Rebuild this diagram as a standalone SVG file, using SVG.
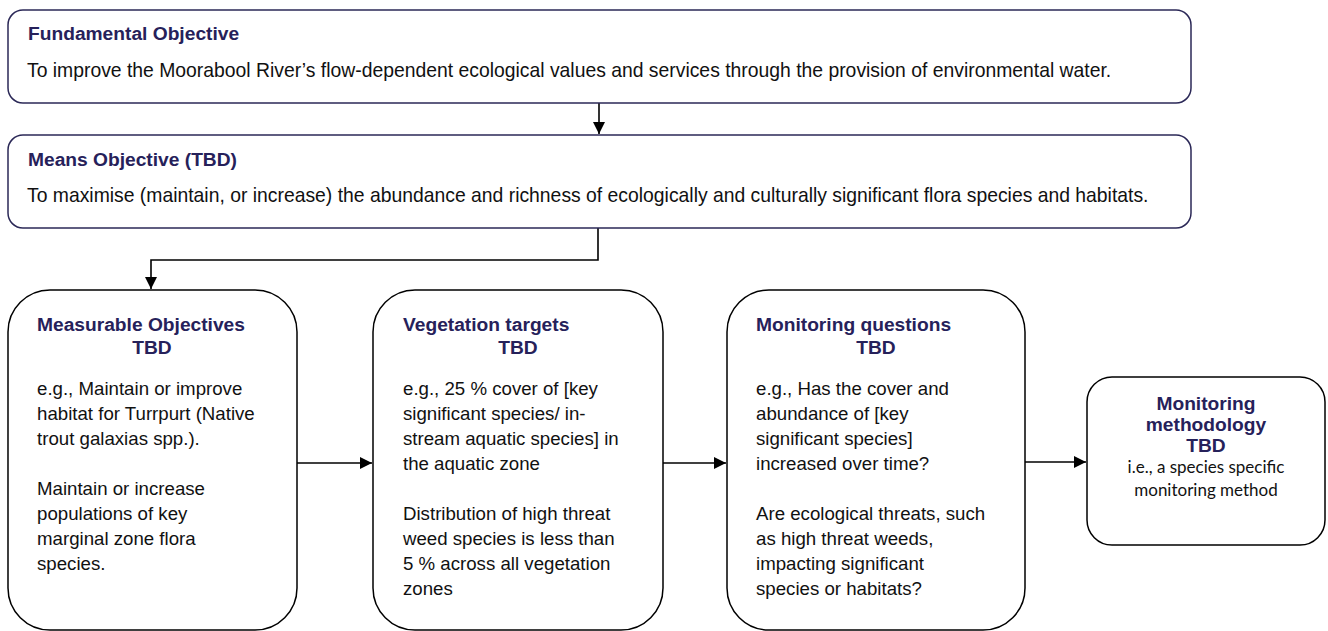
<svg xmlns="http://www.w3.org/2000/svg" width="1328" height="631" viewBox="0 0 1328 631">
<defs>
<style>
.top{fill:#fff;stroke:#2b2857;stroke-width:1.5}
.box{fill:#fff;stroke:#000;stroke-width:1.5}
.h{font-family:"Liberation Sans",Arial,sans-serif;font-weight:bold;font-size:19.2px;fill:#26215a}
.t{font-family:"Liberation Sans",Arial,sans-serif;font-size:18.67px;fill:#111}
.tt{font-family:"Liberation Sans",Arial,sans-serif;font-size:19.35px;fill:#111}
.c{font-family:Lato,"Liberation Sans",sans-serif;font-size:17px;fill:#111}
.con{fill:none;stroke:#000;stroke-width:1.6}
</style>
<marker id="arr" viewBox="0 0 12 12" refX="12" refY="6" markerWidth="12" markerHeight="12" markerUnits="userSpaceOnUse" orient="auto">
<path d="M0,0 L12,6 L0,12 Z" fill="#000"/>
</marker>
</defs>
<g id="connectors">
<path class="con" d="M599,103 V134" marker-end="url(#arr)"/>
<path class="con" d="M598,228 V260 H151 V289" marker-end="url(#arr)"/>
<path class="con" d="M297,463 H372" marker-end="url(#arr)"/>
<path class="con" d="M663,463 H726" marker-end="url(#arr)"/>
<path class="con" d="M1025,462 H1086" marker-end="url(#arr)"/>
</g>
<g id="fundamental">
<rect class="top" x="8" y="10" width="1183" height="93" rx="15"/>
<text class="h" x="28" y="40">Fundamental Objective</text>
<text class="tt" x="27" y="77">To improve the Moorabool River’s flow-dependent ecological values and services through the provision of environmental water.</text>
</g>
<g id="means">
<rect class="top" x="8" y="135" width="1183" height="93" rx="15"/>
<text class="h" x="28" y="166">Means Objective (TBD)</text>
<text class="tt" x="27" y="202">To maximise (maintain, or increase) the abundance and richness of ecologically and culturally significant flora species and habitats.</text>
</g>
<g id="measurable">
<rect class="box" x="8" y="290" width="289" height="340" rx="42"/>
<text class="h" x="37" y="331">Measurable Objectives</text>
<text class="h" x="152" y="354" text-anchor="middle">TBD</text>
<text class="t" x="37" y="395">e.g., Maintain or improve</text>
<text class="t" x="37" y="420">habitat for Turrpurt (Native</text>
<text class="t" x="37" y="445">trout galaxias spp.).</text>
<text class="t" x="37" y="495">Maintain or increase</text>
<text class="t" x="37" y="520">populations of key</text>
<text class="t" x="37" y="545">marginal zone flora</text>
<text class="t" x="37" y="570">species.</text>
</g>
<g id="vegetation">
<rect class="box" x="373" y="290" width="290" height="340" rx="42"/>
<text class="h" x="403" y="331">Vegetation targets</text>
<text class="h" x="518" y="354" text-anchor="middle">TBD</text>
<text class="t" x="403" y="395">e.g., 25 % cover of [key</text>
<text class="t" x="403" y="420">significant species/ in-</text>
<text class="t" x="403" y="445">stream aquatic species] in</text>
<text class="t" x="403" y="470">the aquatic zone</text>
<text class="t" x="403" y="520">Distribution of high threat</text>
<text class="t" x="403" y="545">weed species is less than</text>
<text class="t" x="403" y="570">5 % across all vegetation</text>
<text class="t" x="403" y="595">zones</text>
</g>
<g id="questions">
<rect class="box" x="727" y="290" width="298" height="340" rx="42"/>
<text class="h" x="756" y="331">Monitoring questions</text>
<text class="h" x="876" y="354" text-anchor="middle">TBD</text>
<text class="t" x="756" y="395">e.g., Has the cover and</text>
<text class="t" x="756" y="420">abundance of [key</text>
<text class="t" x="756" y="445">significant species]</text>
<text class="t" x="756" y="470">increased over time?</text>
<text class="t" x="756" y="520">Are ecological threats, such</text>
<text class="t" x="756" y="545">as high threat weeds,</text>
<text class="t" x="756" y="570">impacting significant</text>
<text class="t" x="756" y="595">species or habitats?</text>
</g>
<g id="methodology">
<rect class="box" x="1087" y="377" width="238" height="168" rx="25"/>
<text class="h" x="1206" y="410" text-anchor="middle">Monitoring</text>
<text class="h" x="1206" y="431" text-anchor="middle">methodology</text>
<text class="h" x="1206" y="452" text-anchor="middle">TBD</text>
<text class="c" x="1206" y="473" text-anchor="middle">i.e., a species specific</text>
<text class="c" x="1206" y="496" text-anchor="middle">monitoring method</text>
</g>
</svg>
